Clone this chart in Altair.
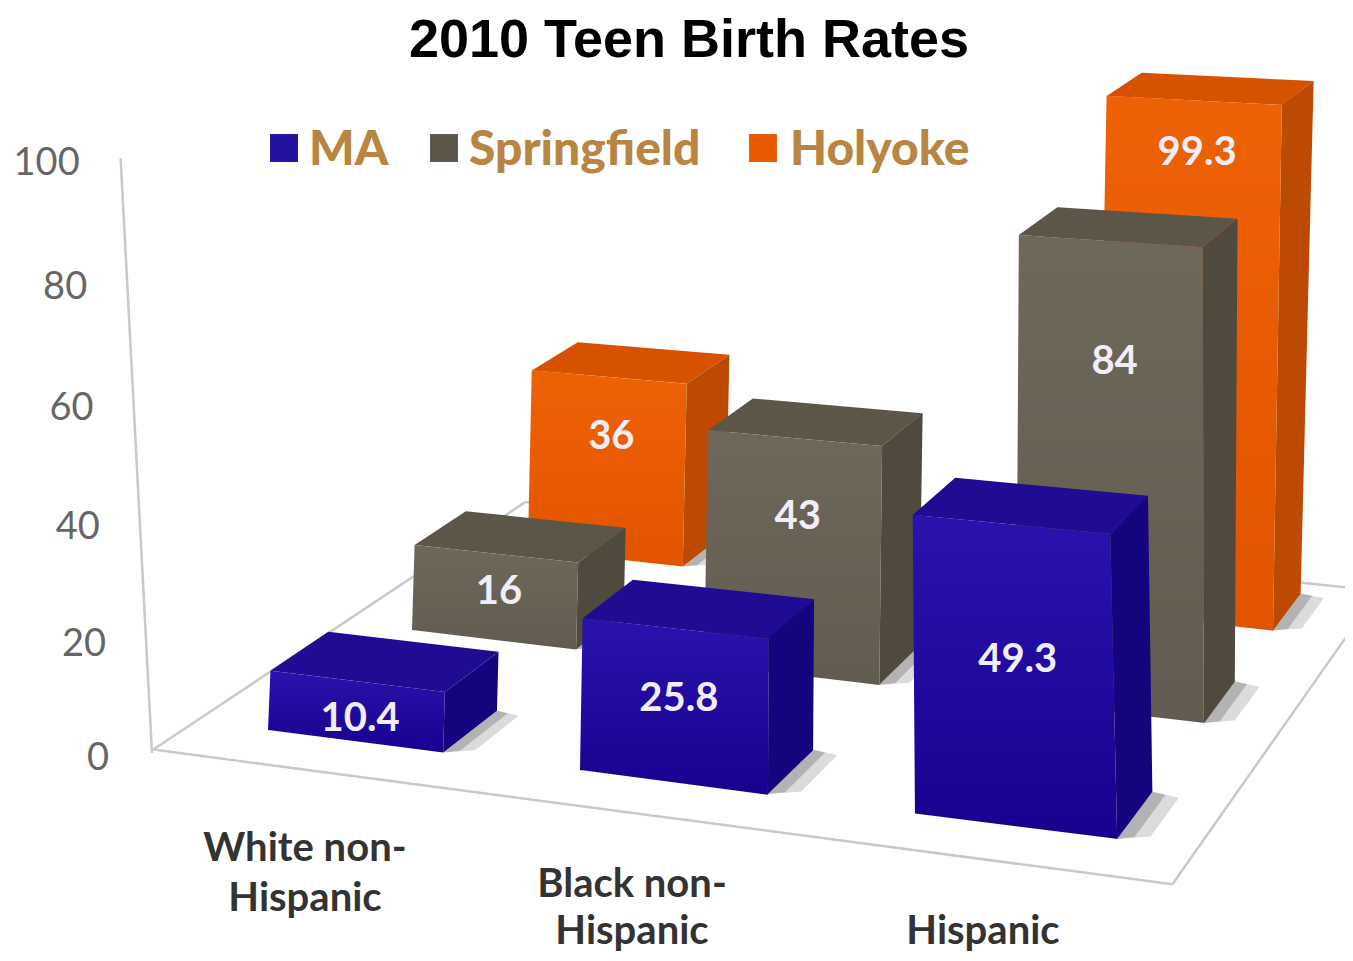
import altair as alt
import pandas as pd

# ---- values ----
title = "2010 Teen Birth Rates"
categories = ["White non-Hispanic", "Black non-Hispanic", "Hispanic"]
series = ["MA", "Springfield", "Holyoke"]
ma = [10.4, 25.8, 49.3]
springfield = [16, 43, 84]
holyoke = [36, None, 99.3]
value_labels = {"MA": ["10.4", "25.8", "49.3"], "Springfield": ["16", "43", "84"], "Holyoke": ["36", "", "99.3"]}
ticks = [0, 20, 40, 60, 80, 100]

# height on the bar at which each data label sits
label_levels = {"MA": [4, 14, 27], "Springfield": [9, 28.5, 62], "Holyoke": [24, 0, 89]}

front_colors = {"MA": ("#2a13ad", "#18008f"), "Springfield": ("#6e685b", "#625c50"), "Holyoke": ("#ee6206", "#e25400")}
side_colors = {"MA": "#14057f", "Springfield": "#4f493e", "Holyoke": "#bd4a02"}
top_colors = {"MA": "#1f0c92", "Springfield": "#5c5649", "Holyoke": "#d65200"}
swatch_colors = {"MA": "#22109f", "Springfield": "#5b5648", "Holyoke": "#e85a00"}
legend_color = "#b98542"

series_values = {"MA": ma, "Springfield": springfield, "Holyoke": holyoke}
ROW_POS = [0, 1, 1.9]
BAR_W, BAR_D = 0.57, 0.39


def project(c, s, v=0.0):
    """Perspective view of the chart's box: column c, row s, height v."""
    w = 1 - 0.0343 * c + 0.0625 * s + 0.00043 * v
    x = 268 + 292.1 * c + 169.75 * s + 0.35 * v - 6 * c * max(s, 0) * (1 - v / 100)
    y = 730 + 13.6 * c - 60.6 * s - 5.41 * v
    return x / w, y / w


def axis_project(v):
    """The value axis is drawn on the box's front-left edge."""
    w = 1 - 0.000466 * v
    return (152 - 0.37 * v) / w, (753 - 6.02 * v) / w


def area_rows(poly, key):
    """Turn a convex polygon into x / upper / lower rows for an area mark."""
    xs = sorted({round(p[0], 2) for p in poly})
    rows = []
    n = len(poly)
    for xi in xs:
        hits = []
        for i in range(n):
            (x0, y0), (x1, y1) = poly[i], poly[(i + 1) % n]
            lo, hi = min(x0, x1), max(x0, x1)
            if lo - 0.01 <= xi <= hi + 0.01:
                if abs(x1 - x0) < 0.01:
                    hits += [y0, y1]
                else:
                    hits.append(y0 + (y1 - y0) * (xi - x0) / (x1 - x0))
        rows.append({"x": xi, "y": min(hits), "y2": max(hits), "k": key})
    return rows


X = alt.X("x:Q", scale=alt.Scale(domain=[8, 1345], nice=False, zero=False), axis=None)
Y = alt.Y("y:Q", scale=alt.Scale(domain=[953, 8], nice=False, zero=False), axis=None, stack=None)
Y2 = alt.Y2("y2:Q")


def faces(rows, fill, opacity=1.0):
    return alt.Chart(pd.DataFrame(rows)).mark_area(
        orient="vertical", color=fill, opacity=opacity, clip=True, interpolate="linear"
    ).encode(x=X, y=Y, y2=Y2, detail="k:N")


layers = []

# floor outline and value axis
fl, fr, bl, br = (-0.24, -0.27), (2.8, -0.27), (-0.24, 2.4), (2.8, 2.4)
outline = []
for i, (a, b) in enumerate([(fl, fr), (fr, br), (br, bl), (bl, fl)]):
    for p in (a, b):
        px, py = project(*p)
        outline.append({"x": px, "y": py, "k": i})
axis_line = []
for v in (0, 100):
    px, py = axis_project(v)
    axis_line.append({"x": px, "y": py, "k": 9})
layers.append(
    alt.Chart(pd.DataFrame(outline + axis_line)).mark_line(color="#c9c9c9", strokeWidth=2.5, clip=True).encode(
        x=X, y=Y, detail="k:N", order=alt.Order("x:Q")
    )
)

# bars, drawn back to front
for row in [2, 1, 0]:
    name = series[row]
    shadow, shadow2, top, side, front = [], [], [], [], []
    for col, val in enumerate(series_values[name]):
        if val is None:
            continue
        s_pos = ROW_POS[row]
        c0, c1, s0, s1 = col, col + BAR_W, s_pos, s_pos + BAR_D
        k = f"{name}{col}"
        shadow += area_rows(
            [project(c1, s0), project(c1 + 0.08, s0 + 0.05), project(c1 + 0.08, s1 - 0.02), project(c1, s1)], k
        )
        shadow2 += area_rows(
            [project(c1, s0), project(c1 + 0.04, s0 + 0.03), project(c1 + 0.04, s1 - 0.01), project(c1, s1)], k
        )
        top += area_rows([project(c0, s0, val), project(c0, s1, val), project(c1, s1, val), project(c1, s0, val)], k)
        side += area_rows([project(c1, s0, val), project(c1, s1, val), project(c1, s1), project(c1, s0)], k)
        front += area_rows([project(c0, s0, val), project(c1, s0, val), project(c1, s0), project(c0, s0)], k)
    grad = alt.Gradient(
        gradient="linear", x1=0, y1=0, x2=0, y2=1,
        stops=[alt.GradientStop(color=front_colors[name][0], offset=0),
               alt.GradientStop(color=front_colors[name][1], offset=1)],
    )
    layers += [
        faces(shadow, "#888888", 0.3),
        faces(shadow2, "#777777", 0.4),
        faces(top, top_colors[name]),
        faces(side, side_colors[name]),
        faces(front, grad),
    ]

# data labels
label_rows = []
for row, name in enumerate(series):
    for col, val in enumerate(series_values[name]):
        if val is None:
            continue
        px, py = project(col + BAR_W / 2 + 0.015, ROW_POS[row], label_levels[name][col])
        label_rows.append({"x": px, "y": py, "t": value_labels[name][col]})
layers.append(
    alt.Chart(pd.DataFrame(label_rows)).mark_text(
        font="Lato", fontWeight="bold", fontSize=40, color="#f1eef8", align="center", baseline="middle"
    ).encode(x=X, y=Y, text="t:N")
)

# value axis labels
tick_rows = [{"x": axis_project(t)[0] - 54 - (20 if t == 100 else 8 if t else 0),
              "y": axis_project(t)[1] + 6, "t": str(t)} for t in ticks]
layers.append(
    alt.Chart(pd.DataFrame(tick_rows)).mark_text(
        font="Lato", fontSize=38, color="#666666", align="center", baseline="middle"
    ).encode(x=X, y=Y, text="t:N")
)

# title
layers.append(
    alt.Chart(pd.DataFrame([{"x": 689, "y": 41, "t": title}])).mark_text(
        font="Liberation Sans", fontWeight="bold", fontSize=54, color="#000000", align="center", baseline="middle"
    ).encode(x=X, y=Y, text="t:N")
)

# legend
legend_sw = pd.DataFrame({"x": [284, 444, 763], "y": [148, 148, 148], "c": [swatch_colors[s] for s in series]})
layers.append(
    alt.Chart(legend_sw).mark_square(size=780, opacity=1).encode(x=X, y=Y, color=alt.Color("c:N", scale=None))
)
legend_tx = pd.DataFrame({"x": [309, 469, 790], "y": [151, 151, 151], "t": series})
layers.append(
    alt.Chart(legend_tx).mark_text(
        font="Lato", fontWeight=900, fontSize=48, color=legend_color, align="left", baseline="middle"
    ).encode(x=X, y=Y, text="t:N")
)

# category labels
cat_lines = pd.DataFrame({
    "x": [305, 305, 632, 632, 983],
    "y": [849, 899, 885, 932, 932],
    "t": ["White non-", "Hispanic", "Black non-", "Hispanic", categories[2]],
})
layers.append(
    alt.Chart(cat_lines).mark_text(
        font="Lato", fontWeight="bold", fontSize=40, color="#333333", align="center", baseline="middle"
    ).encode(x=X, y=Y, text="t:N")
)

chart = alt.layer(*layers).properties(
    width=1337, height=945, padding=0, autosize=alt.AutoSizeParams(type="none"), background="white"
).configure_view(stroke=None)

chart.save("out.html", embed_options={"renderer": "svg", "actions": False})
